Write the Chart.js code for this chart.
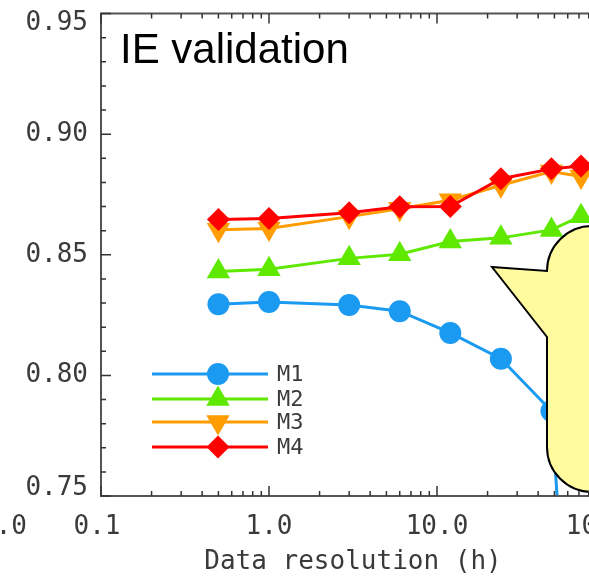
<!DOCTYPE html>
<html>
<head>
<meta charset="utf-8">
<script src="https://cdn.jsdelivr.net/npm/chart.js@4.4.0/dist/chart.umd.min.js"></script>
<style>
    html, body { margin: 0; padding: 0; background: #fff; overflow: hidden; }
    #wrap { width: 650px; height: 576px; }
</style>
</head>
<body>
<div id="wrap"><canvas id="chart" width="650" height="576"></canvas></div>
<script>
// values
const resolutions = [0.5, 1, 3, 6, 12, 24, 48, 72];
const m1 = [0.8295, 0.8304, 0.8292, 0.8266, 0.8176, 0.8069, 0.7852, 0.600];
const m2 = [0.8431, 0.8440, 0.8485, 0.8502, 0.8555, 0.8570, 0.8603, 0.8660];
const m3 = [0.8604, 0.8609, 0.8658, 0.8691, 0.8726, 0.8788, 0.8845, 0.8824];
const m4 = [0.8646, 0.8650, 0.8674, 0.8699, 0.8700, 0.8815, 0.8856, 0.8868];
const seriesNames = ['M1', 'M2', 'M3', 'M4'];
const xTicks = [0.1, 1, 10, 100];
const yTicks = [0.75, 0.80, 0.85, 0.90, 0.95];

const labelFont = '26px "DejaVu Sans Mono", monospace';
const textColor = '#3a3a3a';

const styles = [
    { color: '#1a9af0', pointStyle: 'circle', radius: 11, rotation: 0 },
    { color: '#5fe800', pointStyle: 'triangle', radius: 13.5, rotation: 0 },
    { color: '#ff9c00', pointStyle: 'triangle', radius: 13.5, rotation: 180 },
    { color: '#ff0000', pointStyle: 'rectRot', radius: 11.5, rotation: 0 }
];

const allSeries = [m1, m2, m3, m4];
const datasets = allSeries.map((vals, i) => ({
    label: seriesNames[i],
    data: vals.map((v, j) => ({ x: resolutions[j], y: v })),
    borderColor: styles[i].color,
    backgroundColor: styles[i].color,
    borderWidth: 3,
    pointStyle: styles[i].pointStyle,
    pointRadius: styles[i].radius,
    pointRotation: styles[i].rotation,
    pointBorderWidth: 0,
    tension: 0,
    order: 3 - i
}));

// frame, ticks, labels, legend, title drawn on top
const decor = {
    id: 'decor',
    afterDatasetsDraw(chart) {
        const ctx = chart.ctx;
        // yellow callout
        ctx.save();
        ctx.beginPath();
        ctx.moveTo(492, 267);
        ctx.lineTo(547, 271);
        ctx.arc(592, 271, 45, Math.PI, 1.5 * Math.PI);
        ctx.lineTo(700, 226);
        ctx.lineTo(700, 492);
        ctx.lineTo(592, 492);
        ctx.arc(592, 447, 45, 0.5 * Math.PI, Math.PI);
        ctx.lineTo(547, 337);
        ctx.closePath();
        ctx.fillStyle = '#fffb9e';
        ctx.fill();
        ctx.lineWidth = 2;
        ctx.strokeStyle = '#000';
        ctx.stroke();
        ctx.restore();
    },
    afterDraw(chart) {
        const ctx = chart.ctx;
        const a = chart.chartArea;
        const xs = chart.scales.x;
        const ys = chart.scales.y;
        ctx.save();

        // axes box
        ctx.strokeStyle = '#555';
        ctx.lineWidth = 2;
        ctx.strokeRect(a.left, a.top, a.right - a.left, a.bottom - a.top);

        // ticks
        ctx.strokeStyle = '#333';
        ctx.lineWidth = 1.5;
        ctx.beginPath();
        for (let d = 0.1; d < 100; d *= 10) {
            for (let k = 1; k <= 10; k++) {
                const px = xs.getPixelForValue(k * d);
                const len = (k === 1 || k === 10) ? 10 : 5;
                ctx.moveTo(px, a.bottom); ctx.lineTo(px, a.bottom - len);
                ctx.moveTo(px, a.top); ctx.lineTo(px, a.top + len);
            }
        }
        for (let i = 75; i <= 95; i++) {
            const py = ys.getPixelForValue(i / 100);
            const len = i % 5 === 0 ? 10 : 5;
            ctx.moveTo(a.left, py); ctx.lineTo(a.left + len, py);
        }
        ctx.stroke();

        // tick labels
        ctx.fillStyle = textColor;
        ctx.font = labelFont;
        ctx.textBaseline = 'middle';
        ctx.textAlign = 'right';
        yTicks.forEach(v => {
            const py = Math.min(Math.max(ys.getPixelForValue(v), a.top + 10), a.bottom - 8);
            ctx.fillText(v.toFixed(2), a.left - 13, py);
        });
        ctx.fillText('0.0', 27, 527);
        ctx.textAlign = 'center';
        xTicks.forEach(v => {
            ctx.fillText(v.toFixed(1), xs.getPixelForValue(v) - (v === 0.1 ? 4 : 0), 527);
        });
        ctx.fillText('Data resolution (h)', (a.left + a.right) / 2, 562);

        // legend
        ctx.font = '22px "DejaVu Sans Mono", monospace';
        ctx.textAlign = 'left';
        const legendY = [374, 399, 422, 447];
        styles.forEach((s, i) => {
            ctx.strokeStyle = s.color;
            ctx.lineWidth = 3;
            ctx.beginPath();
            ctx.moveTo(152, legendY[i]);
            ctx.lineTo(268, legendY[i]);
            ctx.stroke();
            ctx.fillStyle = s.color;
            Chart.helpers.drawPoint(ctx, {
                pointStyle: s.pointStyle, radius: s.radius, rotation: s.rotation, borderWidth: 0
            }, 218, legendY[i]);
            ctx.fillStyle = textColor;
            ctx.fillText(seriesNames[i], 277, legendY[i] + 1);
        });

        // panel title
        ctx.fillStyle = '#000';
        ctx.font = '42px "Liberation Sans", Arial, sans-serif';
        ctx.textBaseline = 'alphabetic';
        ctx.fillText('IE validation', 120, 63);
        ctx.restore();
    }
};

new Chart(document.getElementById('chart'), {
    type: 'line',
    data: { datasets: datasets },
    options: {
        responsive: false,
        animation: false,
        layout: { padding: { top: 11, right: 45, left: 0, bottom: 0 } },
        plugins: { legend: { display: false }, tooltip: { enabled: false } },
        scales: {
            x: {
                type: 'logarithmic',
                min: 0.1,
                max: 100,
                grid: { display: false },
                border: { display: false },
                ticks: { display: false },
                afterFit: s => { s.height = 80; s.paddingLeft = 0; s.paddingRight = 0; }
            },
            y: {
                min: 0.75,
                max: 0.95,
                grid: { display: false },
                border: { display: false },
                ticks: { display: false },
                afterFit: s => { s.width = 101; s.paddingTop = 0; s.paddingBottom = 0; }
            }
        }
    },
    plugins: [decor]
});
</script>
</body>
</html>
